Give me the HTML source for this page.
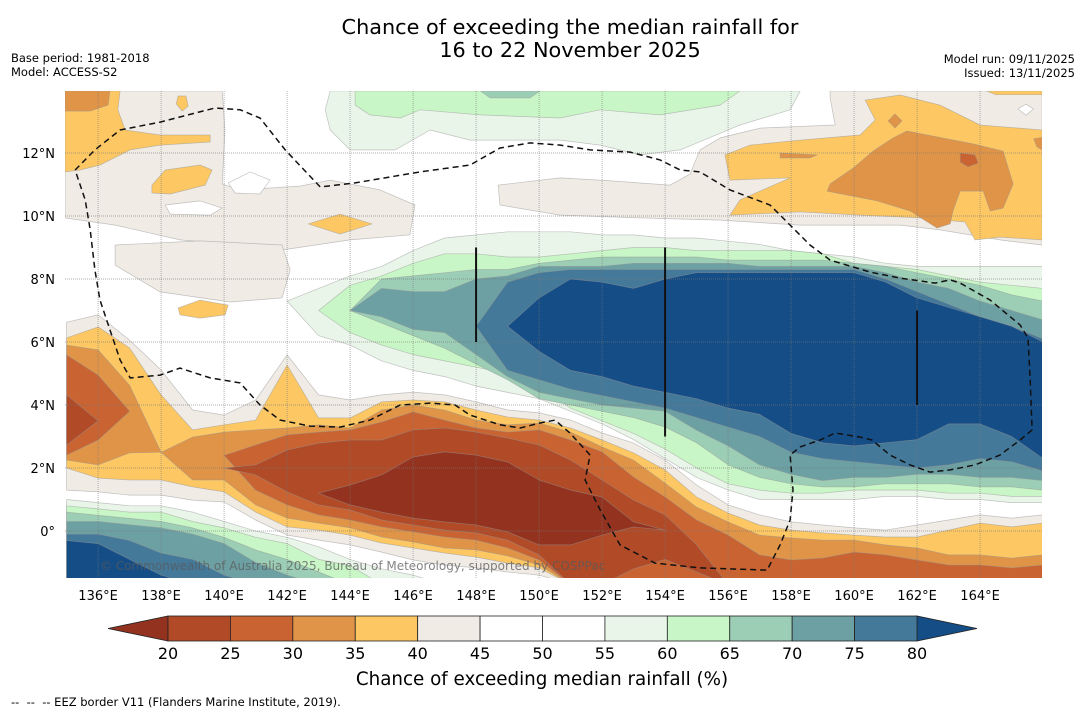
<!DOCTYPE html>
<html><head><meta charset="utf-8">
<style>
html,body{margin:0;padding:0;background:#fff;}
body{width:1085px;height:713px;overflow:hidden;font-family:"DejaVu Sans","Liberation Sans",sans-serif;}
svg text{font-family:"DejaVu Sans","Liberation Sans",sans-serif;}
</style></head>
<body>
<svg id="chart" width="1085" height="713" viewBox="0 0 1085 713" xmlns="http://www.w3.org/2000/svg">
<rect width="1085" height="713" fill="#fff"/>
<text x="570" y="34" font-size="20.8" text-anchor="middle">Chance of exceeding the median rainfall for</text>
<text x="570" y="57" font-size="20.8" text-anchor="middle">16 to 22 November 2025</text>
<text x="11" y="62" font-size="11.5">Base period: 1981-2018</text>
<text x="11" y="76" font-size="11.5">Model: ACCESS-S2</text>
<text x="1075" y="63" font-size="11.5" text-anchor="end">Model run: 09/11/2025</text>
<text x="1075" y="77" font-size="11.5" text-anchor="end">Issued: 13/11/2025</text>
<defs><clipPath id="mapclip"><rect x="65" y="91" width="977" height="487"/></clipPath></defs>
<g id="map" clip-path="url(#mapclip)"></g>
<g id="axes"></g>
<g id="cbar"></g>
<text x="542" y="685" font-size="18.3" text-anchor="middle">Chance of exceeding median rainfall (%)</text>
<text x="11" y="706" font-size="11.5" xml:space="preserve" style="white-space:pre">--  --  -- EEZ border V11 (Flanders Marine Institute, 2019).</text>
</svg>
<script>
// ---- colour levels ----
const levels = [20,25,30,35,40,45,50,55,60,65,70,75,80];
const levelColors = ['#b04a27','#c96331','#e09447','#fdc864','#f0ebe5','#ffffff','#ffffff','#eaf5e9','#c9f6c6','#9ccdb5','#6da0a3','#44799a'];
const underColor = '#93331f';
const overColor = '#154d87';
const C = {lt20:'#93331f',c20:'#b04a27',c25:'#c96331',c30:'#e09447',c35:'#fdc864',c40:'#f0ebe5',w:'#ffffff',c55:'#eaf5e9',c60:'#c9f6c6',c65:'#9ccdb5',c70:'#6da0a3',c75:'#44799a',c80:'#154d87'};

// ---- axes ticks ----
const lonTicks = [136,138,140,142,144,146,148,150,152,154,156,158,160,162,164];
const latTicks = [0,2,4,6,8,10,12];

// ---- southern dry band (lon 135..166), boundary latitudes ----
const southLons = [135,136,137,138,139,140,141,142,143,144,145,146,147,148,149,150,151,152,153,154,155,156,157,158,159,160,161,162,163,164,165,166];
const sBeigeTop = [6.63,6.86,6.06,5.11,3.84,3.68,4.16,5.59,4.32,4.16,4.32,4.41,4.32,4.10,3.84,3.75,3.52,3.11,2.79,2.25,1.46,0.83,0.51,0.29,0.19,0.10,0.03,0.19,0.35,0.51,0.41,0.51];
const sBeigeBot = [1.30,1.24,1.14,1.14,0.98,0.92,0.35,-0.13,-0.29,-0.44,-0.67,-0.92,-1.08,-1.17,-1.30,-1.40,-1.7,-1.7,-1.7,-1.7,-1.7,-1.7,-1.7,-1.7,-1.7,-1.7,-1.7,-1.7,-1.7,-1.7,-1.7,-1.7];
const sYelTop = [6.13,6.48,5.81,4.32,3.21,3.37,3.52,5.27,3.59,3.59,4.10,4.16,4.10,3.84,3.62,3.52,3.27,2.89,2.48,1.94,1.08,0.57,0.19,0.03,-0.06,-0.13,-0.19,-0.19,0.03,0.25,0.13,0.25];
const sYelBot = [2.0,1.68,1.62,1.62,1.40,1.24,0.60,0.13,0.03,-0.13,-0.38,-0.54,-0.70,-0.83,-1.02,-1.17,-1.7,-1.7,-1.7,-1.7,-1.7,-1.7,-1.7,-1.7,-1.7,-1.7,-1.7,-1.7,-1.7,-1.7,-1.7,-1.7];
const sOrTop = [5.90,5.75,4.63,2.5,2.98,3.14,3.21,3.27,3.37,3.27,3.84,4.0,3.84,3.52,3.37,3.43,3.14,2.67,2.25,1.52,0.76,0.29,-0.13,-0.22,-0.29,-0.29,-0.44,-0.54,-0.76,-0.76,-0.86,-0.76];
const sOrBot = [2.25,2.10,2.48,2.5,1.62,1.62,0.83,0.41,0.25,0.10,-0.19,-0.35,-0.54,-0.60,-0.79,-1.08,-1.7,-1.7,-1.7,-1.7,-1.7,-1.7,-1.7,-1.7,-1.7,-1.7,-1.7,-1.7,-1.7,-1.7,-1.7,-1.7];
const s30Top = [5.59,4.95,3.8,null,null,2.4,2.73,3.05,3.14,3.21,3.46,3.78,3.52,3.27,3.14,3.21,2.89,2.51,1.71,1.08,0.35,-0.13,-0.76,-0.92,-0.86,-0.67,-0.76,-0.92,-1.08,-1.08,-1.17,-1.08];
const s30Bot = [2.41,2.89,3.8,null,null,2.4,1.30,0.83,0.51,0.35,0.13,-0.03,-0.19,-0.29,-0.54,-0.92,-1.7,-1.7,-1.7,-1.7,-1.7,-1.7,-1.7,-1.7,-1.7,-1.7,-1.7,-1.7,-1.7,-1.7,-1.7,-1.7];
const s25Top = [4.32,3.5,null,null,null,2.0,2.10,2.57,2.79,2.89,2.89,3.21,3.27,3.14,2.95,2.73,2.25,1.62,0.98,0.51,-0.44,-1.7,-1.7,-1.7,-1.7,-1.7,-1.7,-1.7,-1.7,-1.7,-1.7,-1.7];
const s25Bot = [2.73,3.5,null,null,null,2.0,1.78,1.24,0.83,0.67,0.35,0.19,0.03,-0.06,-0.29,-0.76,-1.7,-1.7,-1.2,-0.9,-1.3,-1.7,-1.7,-1.7,-1.7,-1.7,-1.7,-1.7,-1.7,-1.7,-1.7,-1.7];
const s20Top = [null,null,null,null,null,null,null,null,1.2,1.46,1.78,2.35,2.51,2.41,2.19,1.62,1.30,1.08,0.29,0.03,null,null,null,null,null,null,null,null,null,null,null,null];
const s20Bot = [null,null,null,null,null,null,null,null,1.2,0.83,0.60,0.41,0.29,0.19,-0.03,-0.44,-0.44,-0.13,0.13,0.03,null,null,null,null,null,null,null,null,null,null,null,null];

// ---- central wet band (lon 142..166) ----
const wetLons = [142,143,144,145,146,147,148,149,150,151,152,153,154,155,156,157,158,159,160,161,162,163,164,165,166];
const w55Top = [7.3,7.7,8.1,8.4,8.9,9.3,9.4,9.5,9.5,9.5,9.4,9.4,9.3,9.3,9.2,9.1,8.9,8.8,8.7,8.5,8.4,8.4,8.4,8.4,8.4];
const w55Bot = [7.3,6.2,5.9,5.4,5.1,4.9,4.6,4.4,4.2,3.8,3.4,2.9,2.3,1.7,1.3,1.0,1.0,1.0,1.0,1.1,1.1,1.0,1.0,0.9,0.9];
const w60Top = [null,7.0,7.8,8.1,8.5,8.8,8.8,8.7,8.7,8.8,8.9,9.0,9.0,8.9,8.9,8.9,8.9,8.8,8.5,8.4,8.3,8.1,7.9,7.8,7.7];
const w60Bot = [null,7.0,6.3,5.9,5.6,5.4,5.2,5.0,4.6,3.9,3.5,3.1,2.6,2.0,1.5,1.3,1.2,1.2,1.3,1.3,1.3,1.2,1.2,1.1,1.1];
const w65Top = [null,null,7.0,8.0,8.1,8.2,8.3,8.3,8.5,8.6,8.7,8.7,8.7,8.7,8.6,8.6,8.6,8.6,8.5,8.4,8.2,8.0,7.8,7.5,7.3];
const w65Bot = [null,null,7.0,6.6,6.2,5.8,5.3,4.8,4.2,4.0,3.8,3.6,3.3,2.8,2.1,1.7,1.5,1.4,1.4,1.5,1.5,1.5,1.4,1.4,1.3];
const w70Top = [null,null,7.0,7.7,7.6,7.6,8.0,8.1,8.4,8.4,8.4,8.5,8.5,8.5,8.5,8.4,8.4,8.4,8.4,8.2,7.9,7.7,7.3,7.0,6.7];
const w70Bot = [null,null,7.0,6.8,6.4,6.3,5.6,4.9,4.4,4.2,4.0,3.9,3.8,3.2,2.7,2.1,1.8,1.6,1.7,1.7,1.8,1.8,1.7,1.7,1.6];
const w75Top = [null,null,null,null,null,null,6.5,7.9,8.2,8.3,8.3,8.3,8.3,8.3,8.3,8.3,8.3,8.3,8.3,8.0,7.6,7.2,6.8,6.5,6.1];
const w75Bot = [null,null,null,null,null,null,6.5,5.1,4.8,4.5,4.3,4.1,3.9,3.6,3.3,3.0,2.5,2.3,2.2,2.1,2.0,2.1,2.3,2.2,1.9];
const w80Top = [null,null,null,null,null,null,null,6.5,7.4,8.0,7.9,7.7,8.0,8.2,8.2,8.2,8.2,8.2,8.2,7.9,7.4,7.1,6.8,6.5,6.0];
const w80Bot = [null,null,null,null,null,null,null,6.5,5.7,5.1,4.9,4.6,4.4,4.2,3.9,3.7,3.1,2.8,2.7,2.8,2.9,3.4,3.4,3.0,2.3];

// ---- south-west wet corner (lon 135..147), upper boundaries ----
const swLons = [135,136,137,138,139,140,141,142,143,144,145,146,147];
const b55 = [1.0,0.9,0.8,0.8,0.6,0.3,0.0,-0.2,-0.5,-0.9,-1.2,-1.4,-1.7];
const b60 = [0.8,0.7,0.6,0.6,0.3,0.1,-0.2,-0.4,-0.9,-1.1,-1.7,-1.7,-1.7];
const b65 = [0.6,0.5,0.4,0.3,0.1,-0.2,-0.6,-0.9,-1.3,-1.7,-1.7,-1.7,-1.7];
const b70 = [0.3,0.3,0.2,0.1,-0.1,-0.4,-1.0,-1.4,-1.7,-1.7,-1.7,-1.7,-1.7];
const b75 = [-0.1,-0.1,-0.3,-0.7,-0.9,-1.4,-1.7,-1.7,-1.7,-1.7,-1.7,-1.7,-1.7];
const b80 = [-0.3,-0.4,-0.9,-1.4,-1.7,-1.7,-1.7,-1.7,-1.7,-1.7,-1.7,-1.7,-1.7];

// ---- northern blobs, [lon,lat,...] ----
const beigeNW = [134.95,13.97,139.94,13.97,140.03,12.73,139.94,11.02,140.51,10.83,142.41,10.95,143.37,11.14,144.95,10.83,146.06,10.35,145.90,9.40,144.0,9.24,141.84,8.92,140.51,9.08,138.60,9.24,136.54,9.71,134.95,9.94];
const whiteNW1 = [138.13,10.35,139.24,10.48,139.94,10.25,139.56,10.03,138.29,10.06];
const whiteNW2 = [140.13,11.05,140.83,11.40,141.46,11.14,141.14,10.70,140.35,10.73];
const beigeW = [136.54,9.08,139.24,9.21,141.84,9.08,142.10,8.29,141.84,7.40,140.19,7.27,137.97,7.59,136.54,8.44];
const beigeNE = [159.24,13.97,165.97,13.97,165.97,9.08,164.63,9.24,162.73,9.56,161.46,9.71,158.29,9.71,155.75,9.87,153.21,9.94,150.67,10.03,148.76,10.35,148.70,10.98,150.67,11.21,151.94,11.14,154.16,10.98,154.79,11.33,155.11,12.10,155.75,12.48,157.02,12.79,159.40,12.89,159.24,13.75];
const whiteNE = [165.2,13.4,165.45,13.55,165.7,13.4,165.45,13.2];
const yellowNE = [160.35,13.68,161.46,13.84,162.73,13.52,164.0,12.89,165.97,12.73,165.97,9.24,164.63,9.33,163.84,9.24,163.52,9.81,162.10,9.94,160.19,10.03,158.29,10.13,156.06,10.03,156.38,10.51,157.97,11.21,156.06,11.14,155.90,11.94,156.70,12.25,158.29,12.41,160.19,12.57,160.67,13.05];
const yellowNE2 = [164.2,13.97,165.97,13.97,165.97,13.85,164.5,13.85];
const orangeNE = [161.68,12.70,163.78,12.29,164.73,12.06,165.05,11.02,164.73,10.25,164.32,10.16,164.10,10.79,163.37,10.79,163.14,10.16,163.05,9.75,162.63,9.62,161.78,10.16,160.73,10.48,159.14,10.79,159.24,11.02,159.97,11.52,160.60,12.06,161.24,12.48];
const orangeNE2 = [161.30,13.24,161.52,13.02,161.30,12.79,161.08,13.02];
const orangeNE3 = [157.65,12.0,158.83,11.94,158.6,11.84,157.65,11.84];
const orangeNE4 = [165.7,12.45,165.97,12.5,165.97,12.1,165.8,12.2];
const redNE = [163.37,12.0,163.84,11.94,163.94,11.68,163.62,11.56,163.37,11.71];
const yellowNW = [134.95,13.97,136.70,13.97,136.63,13.37,136.86,12.73,137.97,12.57,139.56,12.57,139.56,12.35,137.97,12.25,137.02,12.10,136.06,11.62,135.43,11.46,134.95,11.40];
const orangeNW = [134.95,13.97,136.38,13.97,136.32,13.52,135.75,13.33,134.95,13.33];
const yellowB2 = [137.71,10.98,138.13,11.46,139.24,11.62,139.62,11.46,139.40,10.98,138.29,10.70,137.71,10.73];
const yellowB3 = [138.54,13.81,138.79,13.81,138.86,13.49,138.67,13.33,138.48,13.56];
const yellowB4 = [142.67,9.75,143.68,10.06,144.70,9.75,143.68,9.43];
const yellowB5 = [138.54,7.08,139.24,7.33,140.13,7.17,140.03,6.86,139.24,6.76,138.60,6.86];
const green55N = [143.37,13.97,158.29,13.97,157.97,13.37,156.38,12.89,154.48,12.10,153.21,11.94,151.94,12.25,150.67,12.41,147.81,12.41,146.54,12.73,145.43,12.10,144.0,12.10,143.37,12.73,143.21,13.37];
const green60N = [144.16,13.97,156.38,13.97,155.75,13.52,153.84,13.21,151.94,13.37,150.67,13.11,148.13,13.21,146.22,13.37,145.59,13.11,144.63,13.21,144.16,13.52];
const teal65N = [148.13,13.97,150.03,13.97,149.71,13.75,148.44,13.75];

// ---- EEZ boundary and island-chain markers ----
const eez = [135.27,11.46,135.9,12.1,136.7,12.73,137.97,12.98,139.71,13.43,140.51,13.37,141.14,13.11,141.94,12.1,143.05,10.92,144.16,11.05,146.22,11.4,147.81,11.62,148.76,12.16,149.71,12.32,150.67,12.25,151.62,12.1,152.89,12.03,153.84,11.78,154.48,11.46,155.11,11.4,156.06,10.83,157.33,10.35,157.97,9.71,158.6,9.08,159.24,8.6,160.51,8.22,161.46,8.03,162.57,7.87,163.05,7.97,163.37,7.87,164.32,7.33,165.27,6.54,165.52,6.13,165.59,4.79,165.65,3.21,165.27,2.89,164.63,2.41,163.84,2.1,163.05,1.94,162.41,1.87,161.78,2.1,161.14,2.41,160.57,2.89,160.19,2.98,159.4,3.11,158.92,2.89,158.29,2.67,157.97,2.41,158.06,1.3,157.97,0.35,157.65,-0.44,157.24,-1.24,155.11,-1.17,153.68,-1.02,152.57,-0.44,151.94,0.67,151.46,1.62,151.62,2.41,150.98,3.11,150.51,3.52,150.03,3.43,149.4,3.27,148.76,3.37,147.81,3.68,147.33,4.0,146.54,4.06,145.59,4.0,144.63,3.52,143.68,3.3,142.73,3.33,141.78,3.52,141.14,4.0,140.51,4.7,139.56,4.86,138.6,5.17,137.97,4.95,137.02,4.86,136.7,5.43,136.38,6.38,136.06,7.33,135.9,8.29,135.75,9.56,135.59,10.51,135.27,11.46];
const barLons = [148,154,162];
const barLatTop = [9.0,9.0,7.0];
const barLatBot = [6.0,3.0,4.0];

// ---- axis functions ----
const X0 = 65, X1 = 1042, Y0 = 91, Y1 = 578;
function xS(lon){ return X0 + (lon - 134.95) * 31.5; }
function yS(lat){ return 531 - lat * 31.5; }
const NS = 'http://www.w3.org/2000/svg';
const map = document.getElementById('map');
const axes = document.getElementById('axes');
const cbar = document.getElementById('cbar');
const STROKE = 'rgba(150,150,150,0.55)';

function bandPaths(lons, top, bot){
  const out = []; let run = [];
  for(let i=0;i<lons.length;i++){
    if(top[i]==null || bot[i]==null){ if(run.length) out.push(run); run=[]; }
    else run.push(i);
  }
  if(run.length) out.push(run);
  return out.map(r=>{
    const pts = r.map(i=>xS(lons[i]).toFixed(1)+','+yS(top[i]).toFixed(1));
    const back = r.slice().reverse().map(i=>xS(lons[i]).toFixed(1)+','+yS(bot[i]).toFixed(1));
    return 'M'+pts.concat(back).join(' L')+' Z';
  });
}
function addBand(lons, top, bot, color, name){
  bandPaths(lons, top, bot).forEach(d=>{
    const p = document.createElementNS(NS,'path');
    p.setAttribute('d', d);
    p.setAttribute('fill', color);
    p.setAttribute('stroke', STROKE);
    p.setAttribute('stroke-width', '0.7');
    p.setAttribute('stroke-linejoin', 'round');
    
    
    map.appendChild(p);
  });
}
function addPoly(arr, color, name){
  const pts = [];
  for(let i=0;i<arr.length;i+=2) pts.push(xS(arr[i]).toFixed(1)+','+yS(arr[i+1]).toFixed(1));
  const p = document.createElementNS(NS,'polygon');
  p.setAttribute('points', pts.join(' '));
  p.setAttribute('fill', color);
  p.setAttribute('stroke', STROKE);
  p.setAttribute('stroke-width', '0.7');
  p.setAttribute('stroke-linejoin', 'round');
  
  
  map.appendChild(p);
}
const swBottom = swLons.map(()=>-1.7);

// northern features
addPoly(beigeNW, C.c40, 'beige-region-northwest');
addPoly(whiteNW1, C.w, 'white-hole-northwest-1');
addPoly(whiteNW2, C.w, 'white-hole-northwest-2');
addPoly(beigeW, C.c40, 'beige-region-west');
addPoly(beigeNE, C.c40, 'beige-region-northeast');
addPoly(whiteNE, C.w, 'white-hole-northeast');
addPoly(yellowNE, C.c35, 'yellow-region-northeast');
addPoly(yellowNE2, C.c35, 'yellow-sliver-northeast');
addPoly(orangeNE, C.c30, 'orange-region-northeast');
addPoly(orangeNE2, C.c30, 'orange-blob-northeast');
addPoly(orangeNE3, C.c30, 'orange-streak-northeast');
addPoly(orangeNE4, C.c30, 'orange-edge-northeast');
addPoly(redNE, C.c25, 'red-blob-northeast');
addPoly(yellowNW, C.c35, 'yellow-region-northwest');
addPoly(orangeNW, C.c30, 'orange-corner-northwest');
addPoly(yellowB2, C.c35, 'yellow-blob-2');
addPoly(yellowB3, C.c35, 'yellow-blob-3');
addPoly(yellowB4, C.c35, 'yellow-blob-4');
addPoly(yellowB5, C.c35, 'yellow-blob-5');
addPoly(green55N, C.c55, 'light-green-region-north');
addPoly(green60N, C.c60, 'green-region-north');
addPoly(teal65N, C.c65, 'teal-patch-north');

// southern dry band
addBand(southLons, sBeigeTop, sBeigeBot, C.c40, 'dry-band-40-45');
addBand(southLons, sYelTop, sYelBot, C.c35, 'dry-band-35-40');
addBand(southLons, sOrTop, sOrBot, C.c30, 'dry-band-30-35');
addBand(southLons, s30Top, s30Bot, C.c25, 'dry-band-25-30');
addBand(southLons, s25Top, s25Bot, C.c20, 'dry-band-20-25');
addBand(southLons, s20Top, s20Bot, C.lt20, 'dry-band-below-20');

// south-west wet corner
addBand(swLons, b55, swBottom, C.c55, 'sw-wet-55-60');
addBand(swLons, b60, swBottom, C.c60, 'sw-wet-60-65');
addBand(swLons, b65, swBottom, C.c65, 'sw-wet-65-70');
addBand(swLons, b70, swBottom, C.c70, 'sw-wet-70-75');
addBand(swLons, b75, swBottom, C.c75, 'sw-wet-75-80');
addBand(swLons, b80, swBottom, C.c80, 'sw-wet-above-80');

// central wet band
addBand(wetLons, w55Top, w55Bot, C.c55, 'wet-band-55-60');
addBand(wetLons, w60Top, w60Bot, C.c60, 'wet-band-60-65');
addBand(wetLons, w65Top, w65Bot, C.c65, 'wet-band-65-70');
addBand(wetLons, w70Top, w70Bot, C.c70, 'wet-band-70-75');
addBand(wetLons, w75Top, w75Bot, C.c75, 'wet-band-75-80');
addBand(wetLons, w80Top, w80Bot, C.c80, 'wet-band-above-80');

// grid
lonTicks.forEach(lon=>{
  const l = document.createElementNS(NS,'line');
  l.setAttribute('x1', xS(lon)); l.setAttribute('x2', xS(lon));
  l.setAttribute('y1', Y0); l.setAttribute('y2', Y1);
  l.setAttribute('stroke', '#777'); l.setAttribute('stroke-width', '0.7');
  l.setAttribute('stroke-dasharray', '1,1'); l.setAttribute('opacity', '0.8');
  
  
  map.appendChild(l);
});
latTicks.forEach(lat=>{
  const l = document.createElementNS(NS,'line');
  l.setAttribute('x1', X0); l.setAttribute('x2', X1);
  l.setAttribute('y1', yS(lat)); l.setAttribute('y2', yS(lat));
  l.setAttribute('stroke', '#777'); l.setAttribute('stroke-width', '0.7');
  l.setAttribute('stroke-dasharray', '1,1'); l.setAttribute('opacity', '0.8');
  
  
  map.appendChild(l);
});

// EEZ dashed boundary
(function(){
  const pts = [];
  for(let i=0;i<eez.length;i+=2) pts.push(xS(eez[i]).toFixed(1)+','+yS(eez[i+1]).toFixed(1));
  const p = document.createElementNS(NS,'polyline');
  p.setAttribute('points', pts.join(' '));
  p.setAttribute('fill', 'none'); p.setAttribute('stroke', '#111');
  p.setAttribute('stroke-width', '1.5'); p.setAttribute('stroke-dasharray', '6,4');
  
  
  map.appendChild(p);
})();
barLons.forEach((lon,i)=>{
  const l = document.createElementNS(NS,'line');
  l.setAttribute('x1', xS(lon)); l.setAttribute('x2', xS(lon));
  l.setAttribute('y1', yS(barLatTop[i])); l.setAttribute('y2', yS(barLatBot[i]));
  l.setAttribute('stroke', '#111'); l.setAttribute('stroke-width', '2');
  
  
  map.appendChild(l);
});
(function(){
  const t = document.createElementNS(NS,'text');
  t.setAttribute('x', 100); t.setAttribute('y', 570);
  t.setAttribute('font-size', '12'); t.setAttribute('fill', 'rgba(90,90,90,0.75)');
  t.textContent = '\u00a9 Commonwealth of Australia 2025, Bureau of Meteorology, supported by COSPPac';
  
  
  map.appendChild(t);
})();

// tick labels
lonTicks.forEach(lon=>{
  const t = document.createElementNS(NS,'text');
  t.setAttribute('x', xS(lon)); t.setAttribute('y', 600);
  t.setAttribute('font-size', '13'); t.setAttribute('text-anchor', 'middle');
  t.textContent = lon + '\u00b0E';
  
  
  axes.appendChild(t);
});
latTicks.forEach(lat=>{
  const t = document.createElementNS(NS,'text');
  t.setAttribute('x', 55); t.setAttribute('y', yS(lat) + 5);
  t.setAttribute('font-size', '13'); t.setAttribute('text-anchor', 'end');
  t.textContent = lat === 0 ? '0\u00b0' : lat + '\u00b0N';
  
  
  axes.appendChild(t);
});

// colorbar
const CB0 = 168, CB1 = 917, CBT = 616, CBB = 641;
function cx(v){ return CB0 + (v - levels[0]) / (levels[levels.length-1] - levels[0]) * (CB1 - CB0); }
(function(){
  const tl = document.createElementNS(NS,'polygon');
  tl.setAttribute('points', `${CB0},${CBT} ${CB0},${CBB} 108,${(CBT+CBB)/2}`);
  tl.setAttribute('fill', underColor); tl.setAttribute('stroke', '#222'); tl.setAttribute('stroke-width', '0.8');
  
  
  cbar.appendChild(tl);
  const tr = document.createElementNS(NS,'polygon');
  tr.setAttribute('points', `${CB1},${CBT} ${CB1},${CBB} 977,${(CBT+CBB)/2}`);
  tr.setAttribute('fill', overColor); tr.setAttribute('stroke', '#222'); tr.setAttribute('stroke-width', '0.8');
  
  
  cbar.appendChild(tr);
})();
levelColors.forEach((col,i)=>{
  const r = document.createElementNS(NS,'rect');
  r.setAttribute('x', cx(levels[i])); r.setAttribute('y', CBT);
  r.setAttribute('width', cx(levels[i+1]) - cx(levels[i])); r.setAttribute('height', CBB - CBT);
  r.setAttribute('fill', col); r.setAttribute('stroke', '#222'); r.setAttribute('stroke-width', '0.8');
  
  
  cbar.appendChild(r);
});
levels.forEach(v=>{
  const t = document.createElementNS(NS,'text');
  t.setAttribute('x', cx(v)); t.setAttribute('y', 659);
  t.setAttribute('font-size', '16'); t.setAttribute('text-anchor', 'middle');
  t.textContent = v;
  
  
  cbar.appendChild(t);
});
</script>
</body></html>
